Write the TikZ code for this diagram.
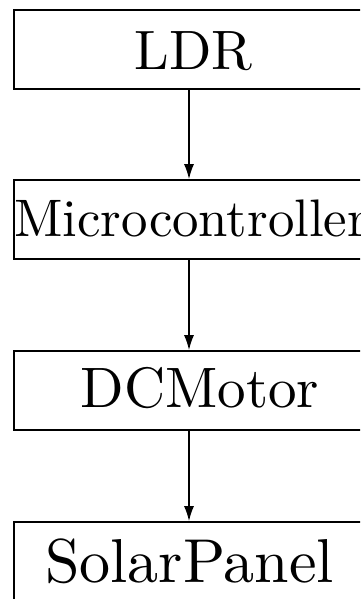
\documentclass[tikz,border=0pt]{standalone}
\usepackage{fontspec}
\newfontfamily\lmten{lmroman10-regular.otf}
\usetikzlibrary{arrows.meta}
\begin{document}
\begin{tikzpicture}[x=1pt,y=-1pt,
  blockbox/.style={draw,line width=1.6pt,minimum width=350pt,minimum height=79pt,inner sep=0pt},
  blocktext/.style={anchor=base,inner sep=0pt},
  conn/.style={line width=1.6pt,-{Latex[length=15pt,width=10pt]}}]
\useasboundingbox (0,0) rectangle (360,599);
\clip (0,0) rectangle (360,599);
\node[blockbox] (ldr) at (189,49.5) {};
\node[blockbox] (mc) at (189,219.5) {};
\node[blockbox] (dc) at (189,390.5) {};
\node[blockbox] (sp) at (189,561.5) {};
\node[blocktext,font=\lmten\fontsize{55.5}{60}\selectfont] (ldrt) at (193.5,70) {LDR};
\node[blocktext,font=\lmten\fontsize{52.8}{60}\selectfont] (mct) at (191,236) {Microcontroller};
\node[blocktext,font=\lmten\fontsize{57}{60}\selectfont] (dct) at (200,407) {DCMotor};
\node[blocktext,font=\lmten\fontsize{62}{66}\selectfont] (spt) at (189.5,582) {SolarPanel};
\draw[conn] (ldr) -- (mc);
\draw[conn] (mc) -- (dc);
\draw[conn] (dc) -- (sp);
\end{tikzpicture}
\end{document}
